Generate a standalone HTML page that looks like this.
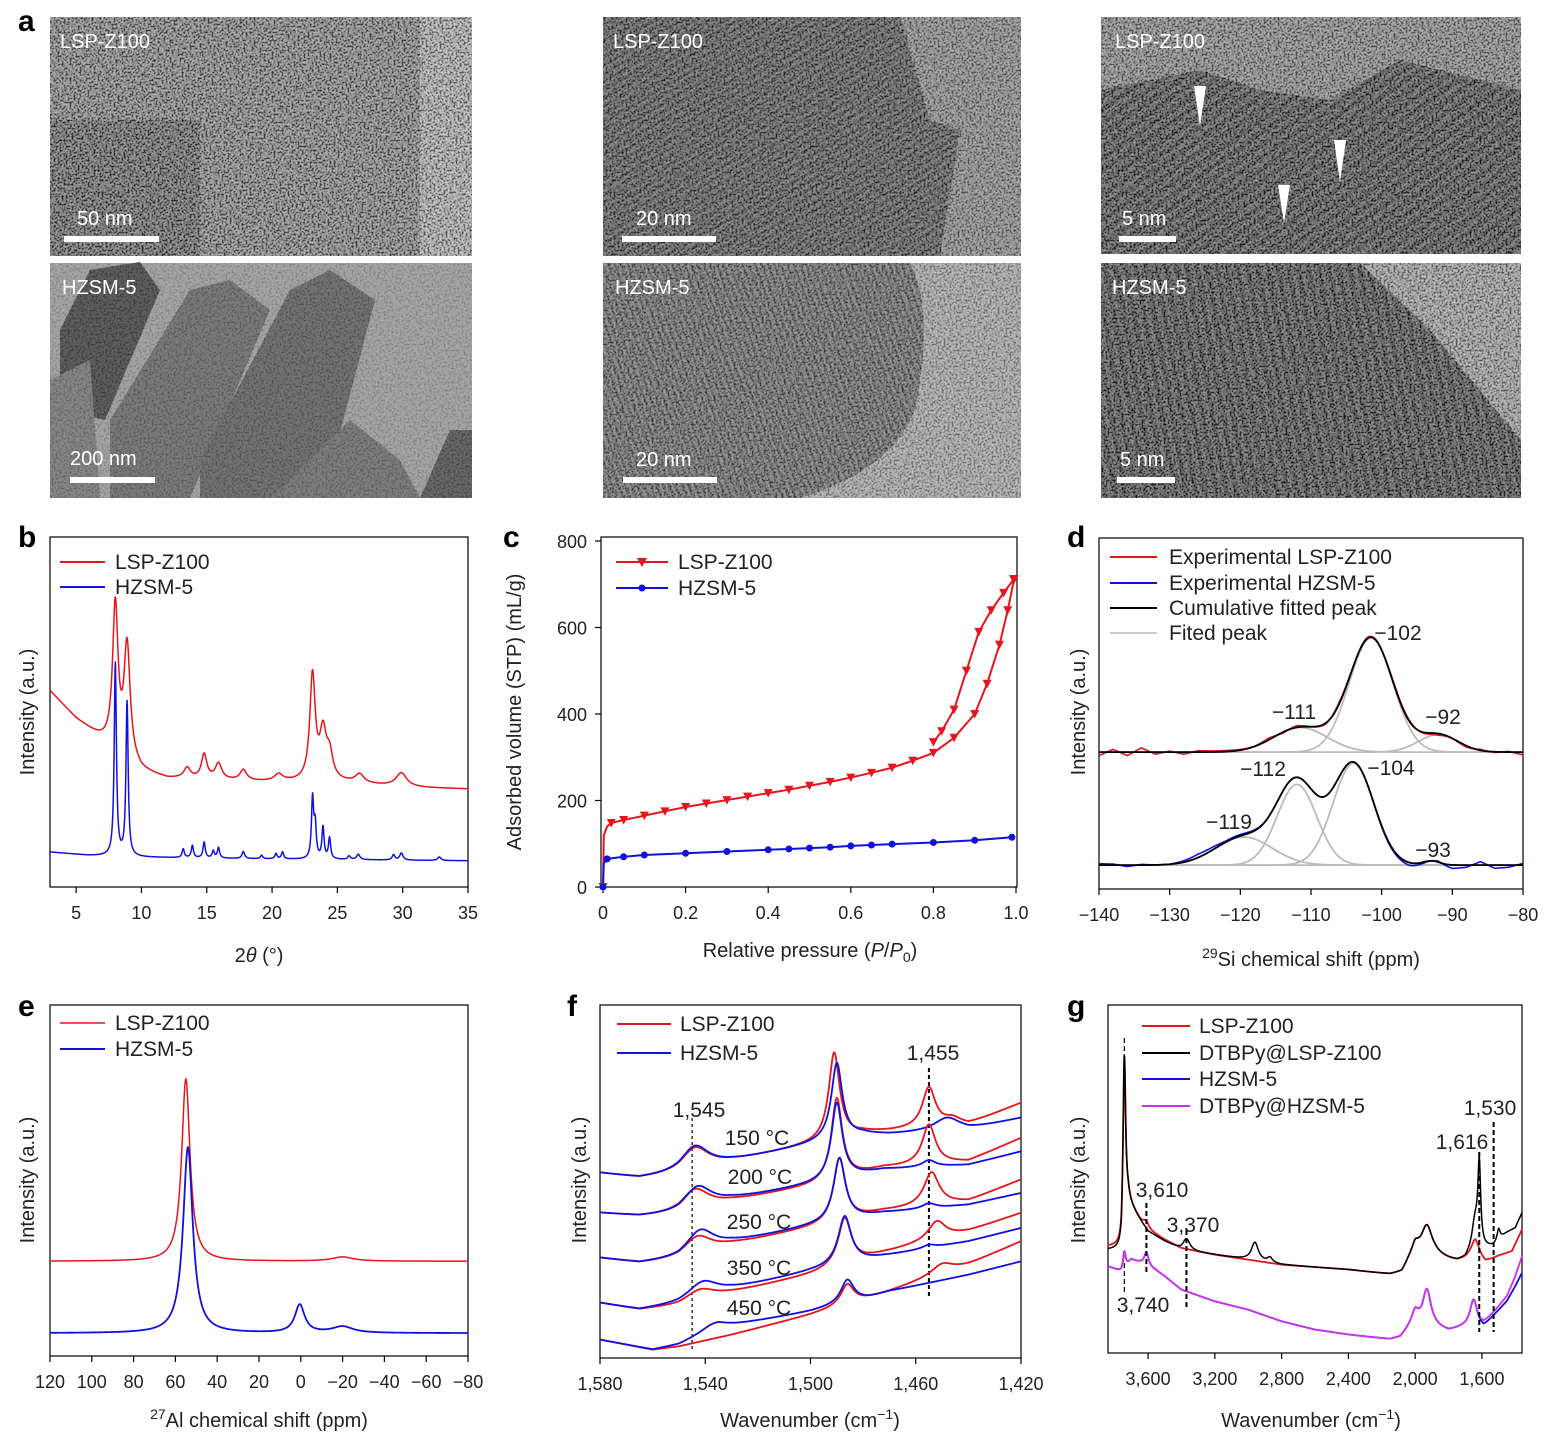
<!DOCTYPE html>
<html><head><meta charset="utf-8">
<style>
html,body{margin:0;padding:0;background:#fff;}
svg{display:block;font-family:"Liberation Sans",Arial,sans-serif;}
.tk{font-size:18px;fill:#222;}
.ti{font-size:20px;fill:#222;}
.lg{font-size:21px;fill:#222;}
.pl{font-size:30px;font-weight:bold;fill:#000;}
.im{font-size:20px;fill:#fff;}
</style></head>
<body>
<svg id="fig" width="1552" height="1444" viewBox="0 0 1552 1444">
<defs>
<filter id="nz" x="0" y="0" width="100%" height="100%"><feTurbulence type="fractalNoise" baseFrequency="0.5" numOctaves="2" seed="4"/><feColorMatrix type="matrix" values="1 0 0 0 0 1 0 0 0 0 1 0 0 0 0 0 0 0 0 1"/><feComponentTransfer><feFuncR type="linear" slope="3.5" intercept="-1.25"/><feFuncG type="linear" slope="3.5" intercept="-1.25"/><feFuncB type="linear" slope="3.5" intercept="-1.25"/></feComponentTransfer></filter>
<pattern id="str1" width="7" height="7" patternUnits="userSpaceOnUse" patternTransform="rotate(60)"><rect width="3" height="7" fill="#000" opacity="0.35"/></pattern>
<pattern id="str2" width="6" height="6" patternUnits="userSpaceOnUse" patternTransform="rotate(-20)"><rect width="2.5" height="6" fill="#000" opacity="0.3"/></pattern>
<pattern id="str3" width="10" height="10" patternUnits="userSpaceOnUse" patternTransform="rotate(55)"><rect width="4.5" height="10" fill="#000" opacity="0.45"/></pattern>
<pattern id="str4" width="10" height="10" patternUnits="userSpaceOnUse" patternTransform="rotate(-10)"><rect width="4.5" height="10" fill="#000" opacity="0.45"/></pattern>
</defs>

<g>
<text class="pl" x="18" y="31">a</text>
<g>
<rect x="50" y="17" width="422" height="239" fill="#6c6c6c"/>
<rect x="50" y="120" width="150" height="136" fill="#2a2a2a" opacity="0.5"/>
<rect x="420" y="17" width="52" height="239" fill="#a8a8a8" opacity="0.8"/>
<rect x="50" y="17" width="422" height="239" filter="url(#nz)" opacity="0.45"/>
<rect x="64" y="236" width="95" height="6" fill="#fff"/>
<text class="im" x="77" y="225">50 nm</text>
<text class="im" x="60" y="48">LSP-Z100</text>
</g>
<g>
<rect x="603" y="17" width="418" height="239" fill="#7c7c7c"/>
<polygon points="603,17 900,17 930,120 960,130 940,256 603,256" fill="#555"/>
<polygon points="603,17 900,17 930,120 960,130 940,256 603,256" fill="url(#str1)"/>
<rect x="603" y="17" width="418" height="239" filter="url(#nz)" opacity="0.35"/>
<rect x="622" y="236" width="94" height="6" fill="#fff"/>
<text class="im" x="636" y="225">20 nm</text>
<text class="im" x="613" y="48">LSP-Z100</text>
</g>
<g>
<rect x="1101" y="17" width="420" height="237" fill="#777"/>
<polygon points="1101,90 1200,70 1260,90 1330,100 1400,60 1440,70 1521,90 1521,254 1101,254" fill="#474747"/>
<polygon points="1101,90 1200,70 1260,90 1330,100 1400,60 1440,70 1521,90 1521,254 1101,254" fill="url(#str3)"/>
<rect x="1101" y="17" width="420" height="237" filter="url(#nz)" opacity="0.4"/>
<polygon points="1194,86 1206,86 1200,126" fill="#fff"/>
<polygon points="1334,140 1346,140 1340,182" fill="#fff"/>
<polygon points="1278,185 1290,185 1284,223" fill="#fff"/>
<rect x="1119" y="236" width="57" height="6" fill="#fff"/>
<text class="im" x="1122" y="225">5 nm</text>
<text class="im" x="1115" y="48">LSP-Z100</text>
</g>
<g>
<rect x="50" y="263" width="422" height="235" fill="#9a9a9a"/>
<polygon points="60,330 90,270 140,262 160,290 105,420 60,410" fill="#4a4a4a"/>
<polygon points="110,420 190,290 230,280 270,310 190,498 110,498" fill="#6a6a6a"/>
<polygon points="200,460 290,290 330,270 375,300 330,470 280,498 200,498" fill="#626262"/>
<polygon points="270,498 350,420 400,460 420,498" fill="#6e6e6e"/>
<polygon points="420,498 450,430 472,430 472,498" fill="#555"/>
<polygon points="50,380 90,360 100,498 50,498" fill="#777"/>
<rect x="50" y="263" width="422" height="235" filter="url(#nz)" opacity="0.12"/>
<rect x="70" y="477" width="85" height="6" fill="#fff"/>
<text class="im" x="70" y="465">200 nm</text>
<text class="im" x="62" y="294">HZSM-5</text>
</g>
<g>
<rect x="603" y="263" width="418" height="235" fill="#9e9e9e"/>
<path d="M603,263 L910,263 C930,300 925,360 915,410 C900,450 860,480 800,498 L603,498 Z" fill="#6e6e6e"/>
<path d="M603,263 L910,263 C930,300 925,360 915,410 C900,450 860,480 800,498 L603,498 Z" fill="url(#str2)"/>
<rect x="603" y="263" width="418" height="235" filter="url(#nz)" opacity="0.3"/>
<rect x="623" y="477" width="94" height="6" fill="#fff"/>
<text class="im" x="636" y="466">20 nm</text>
<text class="im" x="615" y="294">HZSM-5</text>
</g>
<g>
<rect x="1101" y="263" width="420" height="235" fill="#8f8f8f"/>
<polygon points="1101,263 1360,263 1430,330 1521,440 1521,498 1101,498" fill="#444"/>
<polygon points="1101,263 1360,263 1430,330 1521,440 1521,498 1101,498" fill="url(#str4)"/>
<rect x="1101" y="263" width="420" height="235" filter="url(#nz)" opacity="0.4"/>
<rect x="1117" y="477" width="58" height="6" fill="#fff"/>
<text class="im" x="1120" y="466">5 nm</text>
<text class="im" x="1112" y="294">HZSM-5</text>
</g>
</g>

<g>
<text class="pl" x="18" y="547">b</text>
<rect x="50" y="537" width="418" height="350" fill="none" stroke="#000" stroke-width="1.2"/>
<text class="ti" transform="translate(34,712) rotate(-90)" text-anchor="middle">Intensity (a.u.)</text>
<text class="ti" x="259" y="962" text-anchor="middle">2<tspan font-style="italic">θ</tspan> (°)</text>
<line x1="60" y1="562" x2="105" y2="562" stroke="#e8141c" stroke-width="2"/>
<text class="lg" x="115" y="569">LSP-Z100</text>
<line x1="60" y1="587" x2="105" y2="587" stroke="#1010e0" stroke-width="2"/>
<text class="lg" x="115" y="594">HZSM-5</text>
<g id="gb"></g>
</g>

<g>
<text class="pl" x="503" y="547">c</text>
<rect x="601" y="537" width="416" height="350" fill="none" stroke="#000" stroke-width="1.2"/>
<text class="ti" transform="translate(521,712) rotate(-90)" text-anchor="middle">Adsorbed volume (STP) (mL/g)</text>
<text class="ti" x="810" y="957" text-anchor="middle">Relative pressure (<tspan font-style="italic">P</tspan>/<tspan font-style="italic">P</tspan><tspan font-size="14" dy="5">0</tspan><tspan dy="-5">)</tspan></text>
<line x1="616" y1="562" x2="668" y2="562" stroke="#e8141c" stroke-width="2"/>
<polygon points="637,558 647,558 642,567" fill="#e8141c"/>
<text class="lg" x="678" y="569">LSP-Z100</text>
<line x1="616" y1="588" x2="668" y2="588" stroke="#1010e0" stroke-width="2"/>
<circle cx="642" cy="588" r="3.5" fill="#1010e0"/>
<text class="lg" x="678" y="595">HZSM-5</text>
<g id="gc"></g>
</g>

<g>
<text class="pl" x="1067" y="547">d</text>
<rect x="1099" y="538" width="424" height="351" fill="none" stroke="#000" stroke-width="1.2"/>
<text class="ti" transform="translate(1085,712) rotate(-90)" text-anchor="middle">Intensity (a.u.)</text>
<text class="ti" x="1311" y="966" text-anchor="middle"><tspan font-size="14" dy="-8">29</tspan><tspan dy="8">Si chemical shift (ppm)</tspan></text>
<line x1="1110" y1="557" x2="1157" y2="557" stroke="#e8141c" stroke-width="2"/>
<text class="lg" x="1169" y="564">Experimental LSP-Z100</text>
<line x1="1110" y1="583" x2="1157" y2="583" stroke="#1010e0" stroke-width="2"/>
<text class="lg" x="1169" y="590">Experimental HZSM-5</text>
<line x1="1110" y1="608" x2="1157" y2="608" stroke="#000" stroke-width="2"/>
<text class="lg" x="1169" y="615">Cumulative fitted peak</text>
<line x1="1110" y1="633" x2="1157" y2="633" stroke="#bbb" stroke-width="1.5"/>
<text class="lg" x="1169" y="640">Fited peak</text>
<g id="gd"></g>
<g class="lg">
<text x="1398" y="640" text-anchor="middle">−102</text>
<text x="1294" y="719" text-anchor="middle">−111</text>
<text x="1443" y="724" text-anchor="middle">−92</text>
<text x="1263" y="776" text-anchor="middle">−112</text>
<text x="1391" y="775" text-anchor="middle">−104</text>
<text x="1229" y="829" text-anchor="middle">−119</text>
<text x="1433" y="857" text-anchor="middle">−93</text>
</g>
</g>

<g>
<text class="pl" x="18" y="1016">e</text>
<rect x="50" y="1005" width="418" height="351" fill="none" stroke="#000" stroke-width="1.2"/>
<text class="ti" transform="translate(34,1180) rotate(-90)" text-anchor="middle">Intensity (a.u.)</text>
<text class="ti" x="259" y="1427" text-anchor="middle"><tspan font-size="14" dy="-8">27</tspan><tspan dy="8">Al chemical shift (ppm)</tspan></text>
<line x1="60" y1="1023" x2="105" y2="1023" stroke="#e8141c" stroke-width="1.5"/>
<text class="lg" x="115" y="1030">LSP-Z100</text>
<line x1="60" y1="1049" x2="105" y2="1049" stroke="#1010e0" stroke-width="2"/>
<text class="lg" x="115" y="1056">HZSM-5</text>
<g id="ge"></g>
</g>

<g>
<text class="pl" x="567" y="1016">f</text>
<rect x="600" y="1005" width="421" height="353" fill="none" stroke="#000" stroke-width="1.2"/>
<text class="ti" transform="translate(586,1180) rotate(-90)" text-anchor="middle">Intensity (a.u.)</text>
<text class="ti" x="810" y="1427" text-anchor="middle">Wavenumber (cm<tspan font-size="14" dy="-8">−1</tspan><tspan dy="8">)</tspan></text>
<line x1="617" y1="1024" x2="671" y2="1024" stroke="#e8141c" stroke-width="2"/>
<text class="lg" x="680" y="1031">LSP-Z100</text>
<line x1="617" y1="1053" x2="671" y2="1053" stroke="#1010e0" stroke-width="2"/>
<text class="lg" x="680" y="1060">HZSM-5</text>
<g id="gf"></g>
<g class="lg">
<text x="699" y="1117" text-anchor="middle">1,545</text>
<text x="933" y="1060" text-anchor="middle">1,455</text>
<text x="757" y="1145" text-anchor="middle">150 °C</text>
<text x="760" y="1184" text-anchor="middle">200 °C</text>
<text x="759" y="1229" text-anchor="middle">250 °C</text>
<text x="759" y="1275" text-anchor="middle">350 °C</text>
<text x="759" y="1315" text-anchor="middle">450 °C</text>
</g>
</g>

<g>
<text class="pl" x="1067" y="1016">g</text>
<rect x="1108" y="1005" width="414" height="348" fill="none" stroke="#000" stroke-width="1.2"/>
<text class="ti" transform="translate(1085,1180) rotate(-90)" text-anchor="middle">Intensity (a.u.)</text>
<text class="ti" x="1311" y="1427" text-anchor="middle">Wavenumber (cm<tspan font-size="14" dy="-8">−1</tspan><tspan dy="8">)</tspan></text>
<line x1="1142" y1="1026" x2="1190" y2="1026" stroke="#e8141c" stroke-width="2"/>
<text class="lg" x="1199" y="1033">LSP-Z100</text>
<line x1="1142" y1="1053" x2="1190" y2="1053" stroke="#000" stroke-width="2"/>
<text class="lg" x="1199" y="1060">DTBPy@LSP-Z100</text>
<line x1="1142" y1="1079" x2="1190" y2="1079" stroke="#1010e0" stroke-width="2"/>
<text class="lg" x="1199" y="1086">HZSM-5</text>
<line x1="1142" y1="1106" x2="1190" y2="1106" stroke="#d030f0" stroke-width="2"/>
<text class="lg" x="1199" y="1113">DTBPy@HZSM-5</text>
<g id="gg"></g>
<g class="lg">
<text x="1162" y="1197" text-anchor="middle">3,610</text>
<text x="1193" y="1232" text-anchor="middle">3,370</text>
<text x="1143" y="1312" text-anchor="middle">3,740</text>
<text x="1462" y="1149" text-anchor="middle">1,616</text>
<text x="1490" y="1115" text-anchor="middle">1,530</text>
</g>
</g>
</svg>

<script>
// ---------- Panel b data (XRD) ----------
const bTicks = [5, 10, 15, 20, 25, 30, 35];
const bLspBase = [[3, 56], [5, 48], [7, 42], [10, 33], [12, 31], [20, 30], [25, 30], [30, 28.5], [35, 28]];
const bLspPeaks = [[8.0, 41, 0.25], [8.9, 32, 0.28], [13.5, 3, 0.3], [14.8, 7, 0.25], [15.9, 4.5, 0.3], [17.8, 3, 0.3], [20.5, 2, 0.4], [23.1, 30, 0.25], [23.9, 13, 0.3], [24.4, 7, 0.3], [26.7, 2.5, 0.4], [29.9, 4, 0.5]];
const bHzBase = [[3, 10], [6, 9], [10, 8.5], [20, 8], [35, 7.5]];
const bHzPeaks = [[8.0, 55, 0.1], [8.9, 44, 0.1], [13.2, 2.5, 0.1], [13.9, 3.5, 0.1], [14.8, 4.5, 0.1], [15.5, 2, 0.1], [15.9, 3, 0.1], [17.8, 2, 0.12], [19.2, 1, 0.1], [20.3, 1.5, 0.1], [20.8, 2, 0.1], [23.1, 17, 0.1], [23.3, 9, 0.1], [23.9, 9, 0.1], [24.4, 6, 0.1], [25.9, 1, 0.12], [26.6, 1.5, 0.15], [29.3, 1.5, 0.12], [29.9, 2, 0.15], [32.8, 1, 0.15]];

// ---------- Panel c data (isotherms) ----------
const cXTicks = [0, 0.2, 0.4, 0.6, 0.8, 1.0];
const cYTicks = [0, 200, 400, 600, 800];
const cLspAdsP = [0, 0.002, 0.01, 0.02, 0.05, 0.1, 0.15, 0.2, 0.25, 0.3, 0.35, 0.4, 0.45, 0.5, 0.55, 0.6, 0.65, 0.7, 0.75, 0.8, 0.85, 0.9, 0.93, 0.96, 0.98, 0.995];
const cLspAdsV = [0, 120, 140, 148, 155, 165, 175, 185, 193, 201, 209, 217, 225, 234, 243, 253, 264, 276, 292, 310, 345, 400, 470, 560, 640, 710];
const cLspDesP = [0.995, 0.97, 0.94, 0.91, 0.88, 0.85, 0.82, 0.8];
const cLspDesV = [712, 680, 640, 590, 500, 410, 360, 335];
const cHzP = [0, 0.002, 0.01, 0.05, 0.1, 0.2, 0.3, 0.4, 0.45, 0.5, 0.55, 0.6, 0.65, 0.7, 0.8, 0.9, 0.99];
const cHzV = [0, 55, 65, 70, 74, 78, 82, 86, 88, 90, 92, 95, 97, 99, 103, 108, 115];

// ---------- Panel d data (29Si NMR) ----------
const dTicks = [-140, -130, -120, -110, -100, -90, -80];
const dLspBaseline = 39;
const dLspPeaks = [[-101.5, 32.5, 3.1], [-111.5, 7, 3.8], [-92, 5, 2.8]];
const dHzBaseline = 6.8;
const dHzPeaks = [[-104, 29, 2.9], [-112, 23, 2.8], [-119.5, 8, 4], [-93, 1.2, 1.2]];
const dResidX = [-140, -138, -136, -134, -132, -130, -128, -126, -124, -122, -120, -118, -116, -114, -112, -110, -108, -106, -104, -102, -100, -98, -96, -94, -92, -90, -88, -86, -84, -82, -80];
const dLspResid = [-1, 0.8, -1, 1.2, -0.6, 0.3, -0.6, 0.4, 0.3, 0.3, 0.2, 0, 0.5, -0.3, 0.5, 0, -0.3, 0.5, 0, 0.3, 0, 0.4, 0.3, -0.3, -0.5, 0, -0.4, 0.3, -0.2, 0.2, -0.8];
const dHzResid = [0.4, 0.3, -0.4, 0.2, 0, 0, 0.4, 1, 0.8, 0.3, 0.4, 0.3, 0, 0, 0, 0, 0, 0, 0, 0, -0.3, -0.4, -0.8, -0.3, 0.3, -1, -0.6, 1, -0.9, -0.6, 0.5];

// ---------- Panel e data (27Al NMR) ----------
const eTicks = [120, 100, 80, 60, 40, 20, 0, -20, -40, -60, -80];
const eLspBaseline = 27;
const eLspPeaks = [[55, 52, 2.4], [-20, 1.2, 6]];
const eHzBaseline = 6.5;
const eHzPeaks = [[54, 53, 2.8], [0.5, 8, 2.8], [-20, 1.8, 6]];

// ---------- Panel f data (Py-IR) ----------
const fTicks = [1580, 1540, 1500, 1460, 1420];
const fTemps = ['150', '200', '250', '350', '450'];
const fLspBase = [
 [[1580, 55.5], [1565, 54], [1550, 55], [1530, 59], [1500, 64], [1480, 67.5], [1470, 68], [1440, 70], [1420, 76.5]],
 [[1580, 43.5], [1565, 42.5], [1550, 43], [1530, 47], [1500, 51.5], [1472, 57], [1440, 59], [1420, 66]],
 [[1580, 30], [1565, 28.5], [1550, 29.5], [1530, 34], [1500, 39], [1472, 44], [1440, 47], [1420, 53.5]],
 [[1580, 16.5], [1565, 14.5], [1550, 15.5], [1530, 19.5], [1500, 25], [1472, 31.5], [1440, 38], [1420, 43.5]],
 [[1580, 5.5], [1560, 2.5], [1550, 3.5], [1530, 7], [1500, 13], [1478, 18], [1470, 20], [1440, 28], [1420, 35]]
];
const fLspPeaks = [
 [[1544, 7, 6.5], [1491, 26, 2.5], [1455, 12, 3], [1446, 2, 4]],
 [[1544, 6.5, 6.5], [1490, 24.5, 2.5], [1455, 12, 3]],
 [[1543, 5.5, 6.5], [1489, 19, 2.7], [1454, 10, 3.5]],
 [[1542, 3.5, 7], [1487, 14, 3], [1452, 5.5, 4]],
 [[1486, 6, 3], [1450, 3, 5]]
];
const fHzBase = [
 [[1580, 55.5], [1565, 54], [1550, 55], [1530, 59], [1500, 64], [1480, 67], [1470, 67], [1440, 68.5], [1420, 72]],
 [[1580, 43.5], [1565, 42.5], [1550, 43], [1530, 47.5], [1500, 52], [1472, 56.5], [1440, 58], [1420, 62]],
 [[1580, 30], [1565, 28.5], [1550, 29.5], [1530, 34.5], [1500, 39.5], [1472, 43.5], [1440, 46], [1420, 49.5]],
 [[1580, 16.5], [1565, 14.5], [1550, 16], [1530, 20.5], [1500, 26], [1472, 30.5], [1440, 35], [1420, 39]],
 [[1580, 5.5], [1560, 2.5], [1550, 4], [1535, 9], [1500, 14], [1478, 18], [1470, 20], [1440, 25], [1420, 29]]
];
const fHzPeaks = [
 [[1544, 7.5, 6.5], [1490, 23, 2.5], [1448, 4, 6]],
 [[1543, 7, 6.5], [1490, 23, 2.5], [1455, 2, 3]],
 [[1542, 7, 6.5], [1489, 19, 2.7], [1455, 1.5, 3]],
 [[1541, 5, 7], [1487, 14.5, 3], [1455, 1, 3]],
 [[1537, 2, 6], [1486, 7, 3]]
];

// ---------- Panel g data (DRIFT) ----------
const gTicks = [3600, 3200, 2800, 2400, 2000, 1600];
const gLspBase = [[3840, 32], [3760, 32], [3745, 42], [3720, 46], [3700, 44], [3650, 40], [3600, 37], [3500, 34], [3400, 31.5], [3200, 29.5], [3000, 28], [2800, 26.5], [2400, 25], [2150, 23.5], [2080, 24], [2040, 27], [2000, 29], [1960, 29], [1880, 29], [1800, 28], [1750, 27.5], [1700, 28], [1640, 29], [1580, 27], [1500, 29], [1420, 30.5], [1360, 37]];
const gLspPeaks = [[3742, 47, 9], [3610, 2, 18], [1930, 9, 40], [2000, 3, 30], [1640, 5, 30]];
const gDtLspBase = [[3840, 31], [3760, 31], [3745, 42], [3720, 46], [3700, 44], [3650, 40], [3600, 36.5], [3500, 33.5], [3400, 31], [3200, 29.5], [3000, 28], [2800, 26.5], [2400, 25], [2150, 23.5], [2080, 24], [2040, 27], [2000, 29], [1960, 29], [1880, 29], [1800, 28], [1750, 27.5], [1700, 28], [1650, 31], [1590, 31], [1560, 31.5], [1530, 32], [1500, 34], [1450, 36], [1400, 37.5], [1360, 42]];
const gDtLspPeaks = [[3742, 47, 9], [3370, 3.5, 25], [2960, 5.5, 25], [2870, 1.5, 18], [1930, 9, 40], [2000, 3, 30], [1616, 24, 10], [1640, 8, 22], [1500, 3, 10]];
const gHzBase = [[3840, 26], [3760, 24.5], [3700, 28], [3640, 27], [3560, 25], [3500, 23], [3400, 19], [3200, 15.5], [3000, 13], [2800, 9.5], [2600, 7], [2400, 5.5], [2150, 4], [2090, 4.5], [2040, 7], [2000, 9], [1960, 8], [1880, 7.5], [1800, 6.5], [1720, 7.5], [1640, 8], [1590, 7.5], [1530, 11], [1450, 15.5], [1400, 20], [1360, 24]];
const gHzPeaks = [[3742, 5, 9], [3610, 4, 15], [1930, 11, 30], [2000, 3, 28], [1650, 8, 26]];
const gDtHzBase = [[3840, 26], [3760, 24.5], [3700, 28], [3640, 27], [3560, 25], [3500, 23], [3400, 19], [3200, 15.5], [3000, 13], [2800, 9.5], [2600, 7], [2400, 5.5], [2150, 4], [2090, 4.5], [2040, 7], [2000, 9], [1960, 8], [1880, 7.5], [1800, 6.5], [1720, 7.5], [1640, 8], [1590, 8.5], [1530, 12], [1450, 17], [1400, 23], [1360, 29]];
const gDtHzPeaks = [[3742, 5, 9], [3610, 4, 15], [1930, 11, 30], [2000, 3, 28], [1650, 8, 26]];
const gMarkers = [3742, 3610, 3370, 1616, 1530];

// ---------- helpers ----------
const NS = 'http://www.w3.org/2000/svg';
function mk(tag, attrs, parent) {
  const el = document.createElementNS(NS, tag);
  for (const k in attrs) el.setAttribute(k, attrs[k]);
  parent.appendChild(el);
  return el;
}
function lin(d0, d1, r0, r1) { return v => r0 + (v - d0) * (r1 - r0) / (d1 - d0); }
function lor(x, p) { return p[1] / (1 + Math.pow((x - p[0]) / p[2], 2)); }
function gau(x, p) { return p[1] * Math.exp(-0.5 * Math.pow((x - p[0]) / p[2], 2)); }
function interp(keys, x) {
  const k = keys.slice().sort((a, b) => a[0] - b[0]);
  if (x <= k[0][0]) return k[0][1];
  if (x >= k[k.length - 1][0]) return k[k.length - 1][1];
  for (let i = 0; i < k.length - 1; i++) {
    if (x >= k[i][0] && x <= k[i + 1][0]) {
      const t = (x - k[i][0]) / (k[i + 1][0] - k[i][0]);
      return k[i][1] + t * (k[i + 1][1] - k[i][1]);
    }
  }
}
function pathOf(a, b, n, fn, sx, sy) {
  let d = '';
  for (let i = 0; i <= n; i++) {
    const x = a + (b - a) * i / n;
    d += (i ? 'L' : 'M') + sx(x).toFixed(2) + ',' + sy(fn(x)).toFixed(2);
  }
  return d;
}
function xTicks(g, ticks, sx, yb, fmt) {
  ticks.forEach(t => {
    const tl = mk('line', {x1: sx(t), x2: sx(t), y1: yb, y2: yb + 6, stroke: '#000', 'stroke-width': 1.2}, g);
    
    
    const tx = mk('text', {x: sx(t), y: yb + 32, 'text-anchor': 'middle', class: 'tk'}, g);
    tx.textContent = fmt(t);
    
    
  });
}
function fmtNum(t) {
  const s = Math.abs(t) >= 1000 ? Math.abs(t).toLocaleString('en-US') : String(Math.abs(t));
  return (t < 0 ? '−' : '') + s;
}
function curve(g, d, color, w, name) {
  const p = mk('path', {d: d, fill: 'none', stroke: color, 'stroke-width': w, 'stroke-linejoin': 'round'}, g);
  
  
  return p;
}
const RED = '#e8141c', BLUE = '#1010e0', PURP = '#d030f0';

// ---------- Panel b ----------
(function () {
  const g = document.getElementById('gb');
  const sx = lin(3, 35, 50, 468), sy = lin(0, 100, 887, 537);
  xTicks(g, bTicks, sx, 887, fmtNum);
  const fR = x => interp(bLspBase, x) + bLspPeaks.reduce((s, p) => s + lor(x, p), 0);
  const fB = x => interp(bHzBase, x) + bHzPeaks.reduce((s, p) => s + lor(x, p), 0);
  curve(g, pathOf(3, 35, 1600, fR, sx, sy), RED, 1.5, 'xrd-lsp-z100');
  curve(g, pathOf(3, 35, 1600, fB, sx, sy), BLUE, 1.5, 'xrd-hzsm-5');
})();

// ---------- Panel c ----------
(function () {
  const g = document.getElementById('gc');
  const sx = lin(0, 1, 603, 1016), sy = lin(0, 800, 887, 541);
  xTicks(g, cXTicks, sx, 887, t => t === 0 ? '0' : t.toFixed(1));
  cYTicks.forEach(t => {
    const tl = mk('line', {x1: 595, x2: 601, y1: sy(t), y2: sy(t), stroke: '#000', 'stroke-width': 1.2}, g);
    
    
    const tx = mk('text', {x: 587, y: sy(t) + 7, 'text-anchor': 'end', class: 'tk'}, g);
    tx.textContent = String(t);
    
    
  });
  function poly(P, V, color, name) {
    const d = P.map((p, i) => (i ? 'L' : 'M') + sx(p).toFixed(2) + ',' + sy(V[i]).toFixed(2)).join('');
    curve(g, d, color, 2, name);
  }
  poly(cLspAdsP, cLspAdsV, RED, 'isotherm-lsp-adsorption');
  poly(cLspDesP, cLspDesV, RED, 'isotherm-lsp-desorption');
  poly(cHzP, cHzV, BLUE, 'isotherm-hzsm-5');
  cLspAdsP.concat(cLspDesP).forEach((p, i) => {
    const v = i < cLspAdsP.length ? cLspAdsV[i] : cLspDesV[i - cLspAdsP.length];
    if (p < 0.02 && p > 0) return;
    const x = sx(p), y = sy(v);
    const m = mk('polygon', {points: (x - 4.5) + ',' + (y - 4) + ' ' + (x + 4.5) + ',' + (y - 4) + ' ' + x + ',' + (y + 4.5), fill: RED}, g);
    
    
  });
  cHzP.forEach((p, i) => {
    if (p < 0.01 && p > 0) return;
    const m = mk('circle', {cx: sx(p), cy: sy(cHzV[i]), r: 3.5, fill: BLUE}, g);
    
    
  });
})();

// ---------- Panel d ----------
(function () {
  const g = document.getElementById('gd');
  const sx = lin(-140, -80, 1099, 1523), sy = lin(0, 100, 889, 538);
  xTicks(g, dTicks, sx, 889, fmtNum);
  const res = (R, x) => interp(dResidX.map((v, i) => [v, R[i]]), x);
  const fitR = x => dLspBaseline + dLspPeaks.reduce((s, p) => s + gau(x, p), 0);
  const fitB = x => dHzBaseline + dHzPeaks.reduce((s, p) => s + gau(x, p), 0);
  dLspPeaks.forEach(p => curve(g, pathOf(-140, -80, 400, x => dLspBaseline + gau(x, p), sx, sy), '#bbb', 1.8, 'fitted-peak-lsp'));
  dHzPeaks.forEach(p => curve(g, pathOf(-140, -80, 400, x => dHzBaseline + gau(x, p), sx, sy), '#bbb', 1.8, 'fitted-peak-hzsm'));
  curve(g, pathOf(-140, -80, 600, x => fitR(x) + res(dLspResid, x), sx, sy), RED, 1.6, 'experimental-lsp');
  curve(g, pathOf(-140, -80, 600, x => fitB(x) + res(dHzResid, x), sx, sy), BLUE, 1.6, 'experimental-hzsm');
  curve(g, pathOf(-140, -80, 600, fitR, sx, sy), '#000', 1.8, 'cumulative-fit-lsp');
  curve(g, pathOf(-140, -80, 600, fitB, sx, sy), '#000', 1.8, 'cumulative-fit-hzsm');
})();

// ---------- Panel e ----------
(function () {
  const g = document.getElementById('ge');
  const sx = lin(120, -80, 50, 468), sy = lin(0, 100, 1356, 1005);
  xTicks(g, eTicks, sx, 1356, fmtNum);
  const fR = x => eLspBaseline + eLspPeaks.reduce((s, p) => s + lor(x, p), 0);
  const fB = x => eHzBaseline + eHzPeaks.reduce((s, p) => s + lor(x, p), 0);
  curve(g, pathOf(120, -80, 800, fR, sx, sy), RED, 1.5, 'al-nmr-lsp');
  curve(g, pathOf(120, -80, 800, fB, sx, sy), BLUE, 1.8, 'al-nmr-hzsm');
})();

// ---------- Panel f ----------
(function () {
  const g = document.getElementById('gf');
  const sx = lin(1580, 1420, 600, 1021), sy = lin(0, 106, 1358, 1005);
  xTicks(g, fTicks, sx, 1358, fmtNum);
  const d1 = mk('line', {x1: sx(1545), x2: sx(1545), y1: 1118, y2: 1352, stroke: '#000', 'stroke-width': 1.2, 'stroke-dasharray': '3,3'}, g);
  
  
  const d2 = mk('line', {x1: sx(1455), x2: sx(1455), y1: 1068, y2: 1298, stroke: '#000', 'stroke-width': 2, 'stroke-dasharray': '4,3'}, g);
  
  
  fTemps.forEach((t, i) => {
    const fR = x => interp(fLspBase[i], x) + fLspPeaks[i].reduce((s, p) => s + lor(x, p), 0);
    const fB = x => interp(fHzBase[i], x) + fHzPeaks[i].reduce((s, p) => s + lor(x, p), 0);
    curve(g, pathOf(1580, 1420, 500, fR, sx, sy), RED, 1.8, 'py-ir-lsp-' + t);
    curve(g, pathOf(1580, 1420, 500, fB, sx, sy), BLUE, 1.8, 'py-ir-hzsm-' + t);
  });
})();

// ---------- Panel g ----------
(function () {
  const g = document.getElementById('gg');
  const sx = lin(3840, 1360, 1108, 1522), sy = lin(0, 104.5, 1353, 1005);
  xTicks(g, gTicks, sx, 1353, fmtNum);
  const fn = (B, P) => x => interp(B, x) + P.reduce((s, p) => s + lor(x, p), 0);
  curve(g, pathOf(3840, 1360, 1400, fn(gHzBase, gHzPeaks), sx, sy), BLUE, 1.8, 'drift-hzsm');
  curve(g, pathOf(3840, 1360, 1400, fn(gDtHzBase, gDtHzPeaks), sx, sy), PURP, 1.8, 'drift-dtbpy-hzsm');
  curve(g, pathOf(3840, 1360, 1400, fn(gLspBase, gLspPeaks), sx, sy), RED, 1.8, 'drift-lsp');
  curve(g, pathOf(3840, 1360, 1400, fn(gDtLspBase, gDtLspPeaks), sx, sy), '#000', 1.5, 'drift-dtbpy-lsp');
  const spans = [[1038, 1060, 1263, 1293], [1203, 1275], [1230, 1307], [1152, 1332], [1122, 1332]];
  gMarkers.forEach((m, i) => {
    const s = spans[i];
    for (let j = 0; j < s.length; j += 2) {
      const l = mk('line', {x1: sx(m), x2: sx(m), y1: s[j], y2: s[j + 1], stroke: '#000', 'stroke-width': i === 0 ? 1.2 : 2, 'stroke-dasharray': '5,3'}, g);
      
      
    }
  });
})();
</script>
</body></html>
